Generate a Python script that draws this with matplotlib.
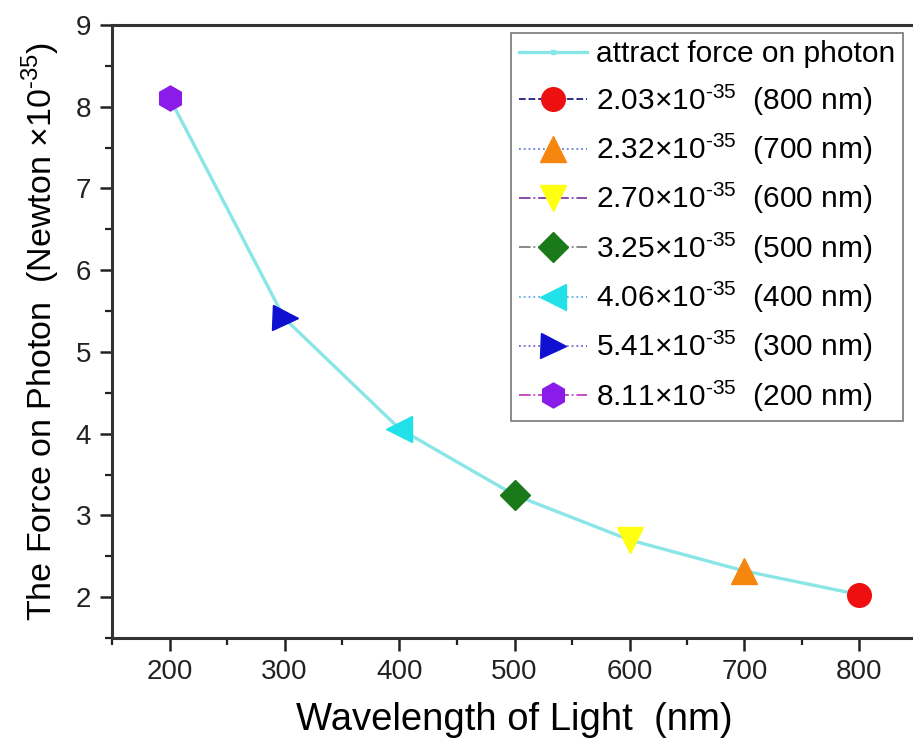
import matplotlib
matplotlib.use("Agg")
import matplotlib.pyplot as plt
from matplotlib.ticker import MultipleLocator

plt.rcParams['font.family'] = ['Liberation Sans', 'DejaVu Sans']
plt.rcParams['mathtext.fontset'] = 'custom'
plt.rcParams['mathtext.rm'] = 'Liberation Sans'

wavelength = [200, 300, 400, 500, 600, 700, 800]
force = [8.11, 5.41, 4.06, 3.25, 2.70, 2.32, 2.03]

point_labels = ["8.11", "5.41", "4.06", "3.25", "2.70", "2.32", "2.03"]
markers = ['h', '>', '<', 'D', 'v', '^', 'o']
colors = ['#8a1be8', '#1010d0', '#22e0e8', '#1a7a1a', '#ffff10', '#f5870f', '#ee1010']
line_colors = ['#c040c0', '#8060d0', '#60b0e0', '#808080', '#8040a0', '#6080d0', '#202080']
line_styles = ['-.', ':', ':', '-.', '-.', ':', '--']
msizes = [18, 18, 19, 15, 19, 19, 17]

W, H = 913, 751
fig = plt.figure(figsize=(W / 100, H / 100), dpi=100)
ax = fig.add_axes([112 / W, 113 / H, 805 / W, 613 / H])

ax.plot(wavelength, force, color='#8ae6e6', lw=2.4, marker='s', ms=3, zorder=1,
        label='attract force on photon')

for i in range(len(wavelength) - 1, -1, -1):
    ax.plot([wavelength[i]], [force[i]], marker=markers[i], ms=msizes[i],
            color=line_colors[i], ls=line_styles[i], lw=1.3,
            markerfacecolor=colors[i], markeredgecolor=colors[i], zorder=3,
            label='%s\u00d710$^{\\mathrm{\u2010}35}$  (%d nm)' % (point_labels[i], wavelength[i]))

ax.set_xlim(150, 850)
ax.set_ylim(1.5, 9)
ax.xaxis.set_major_locator(MultipleLocator(100))
ax.xaxis.set_minor_locator(MultipleLocator(50))
ax.yaxis.set_major_locator(MultipleLocator(1))
ax.yaxis.set_minor_locator(MultipleLocator(0.5))
ax.tick_params(which='major', direction='out', length=9, width=1.8, labelsize=20,
               colors='#222222', pad=6)
ax.tick_params(which='minor', direction='out', length=5, width=1.6, colors='#222222')
for s in ax.spines.values():
    s.set_linewidth(2.2)
    s.set_color('#333333')

ax.set_xlabel('Wavelength of Light  (nm)', fontsize=27.5, labelpad=12)
ax.set_ylabel('The Force on Photon  (Newton \u00d710$^{\\mathrm{\u2010}35}$)', fontsize=24.5, labelpad=10)

leg = ax.legend(loc='upper right', bbox_to_anchor=((903 - 112) / 805, (638 - 33) / 613),
                borderaxespad=0, fontsize=21.5, frameon=True, fancybox=False,
                edgecolor='#555555', handlelength=2.3, labelspacing=0.45,
                borderpad=0.25, handletextpad=0.3)
leg.get_frame().set_linewidth(1.2)

fig.savefig('out.png', dpi=100)
